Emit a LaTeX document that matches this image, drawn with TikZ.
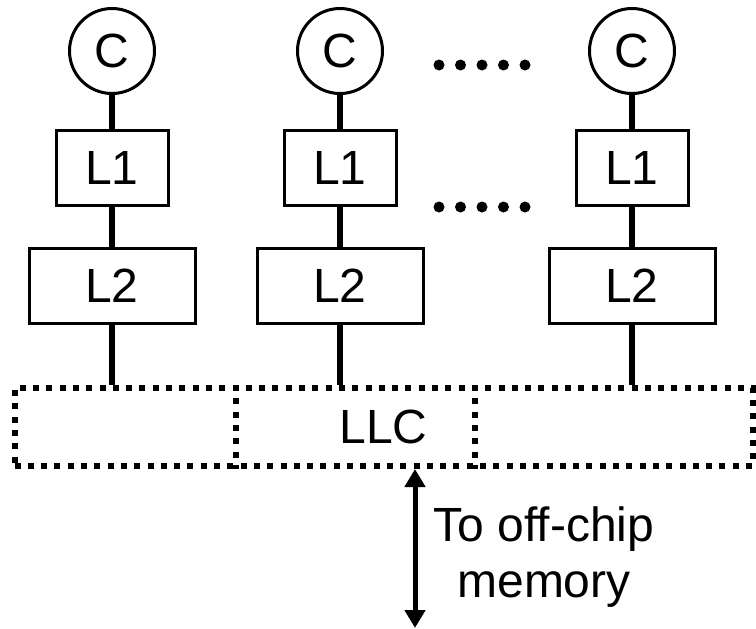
\documentclass[tikz,border=0pt]{standalone}
\usepackage{fontspec}
\setmainfont{Liberation Sans}
\usetikzlibrary{arrows.meta,calc}

\tikzset{
  corenode/.style={draw, circle, line width=3pt, minimum size=85pt, inner sep=0pt},
  cachebox/.style={draw, rectangle, line width=3pt, minimum height=75pt, inner sep=0pt},
  link/.style={line width=6pt},
  dotline/.style={line width=6pt, dash pattern=on 6pt off 7.3pt},
}

\begin{document}
\begin{tikzpicture}[x=1pt, y=-1pt, font=\fontsize{48}{56}\selectfont]
  \useasboundingbox (0,0) rectangle (756,629);
  \foreach \i/\x in {1/112, 2/340, 3/632} {
    \node[corenode] (c\i) at (\x,51) {C};
    \node[cachebox, minimum width=112pt] (la\i) at (\x,168) {L1};
    \node[cachebox, minimum width=166pt] (lb\i) at (\x,286) {L2};
  }
  \node[draw, dotline, minimum width=738pt, minimum height=78pt, inner sep=0pt] (llc) at (383.5,427) {LLC};
  \draw[dotline] ([xshift=224pt]llc.north west) -- ([xshift=224pt]llc.south west);
  \draw[dotline] ([xshift=463pt]llc.north west) -- ([xshift=463pt]llc.south west);

  \foreach \i in {1,2,3} {
    \draw[link] (c\i) -- (la\i);
    \draw[link] (la\i) -- (lb\i);
    \draw[link] (lb\i) -- (lb\i |- llc.north);
  }

  % more cores
  \foreach \y in {65,207}
    \foreach \x in {439,460.5,482,503.5,525}
      \fill (\x,\y) circle (5.5pt);

  % memory
  \coordinate (offchip) at (415,628);
  \draw[line width=5pt, {Triangle[length=18pt,width=20pt]}-{Triangle[length=18pt,width=20pt]}] (offchip |- llc.south) -- (offchip);
  \node[anchor=north, align=center, inner sep=0pt] (memtext) at (544,507) {To off-chip\\memory};
\end{tikzpicture}
\end{document}
